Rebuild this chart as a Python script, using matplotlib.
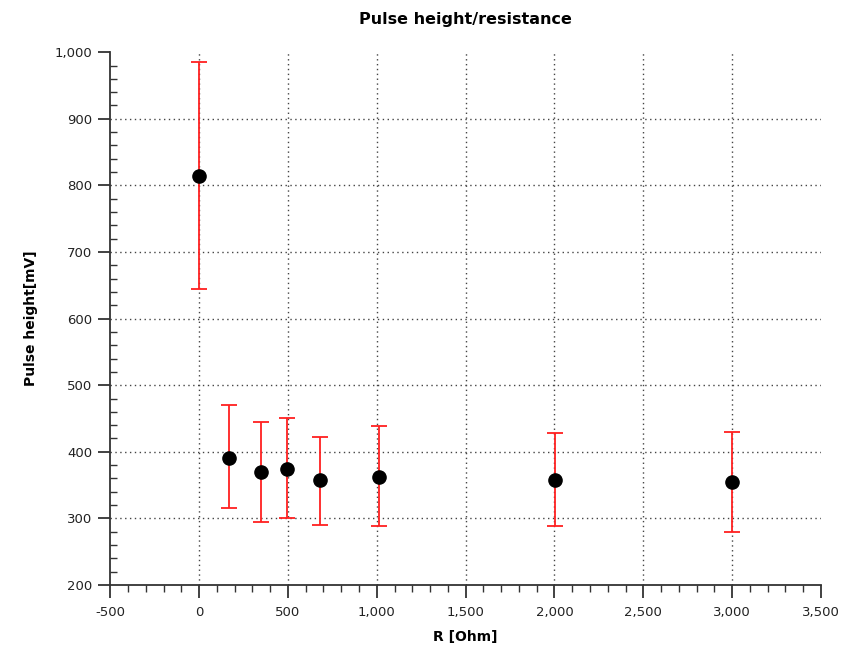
import matplotlib
matplotlib.use('Agg')
import matplotlib.pyplot as plt
from matplotlib.ticker import MultipleLocator, FuncFormatter

# Data
resistance = [0, 168, 347, 497, 683, 1015, 2003, 3000]
pulse_height = [814, 391, 369, 374, 357, 362, 357, 354]
err_low = [644, 316, 295, 300, 290, 288, 288, 280]
err_high = [986, 470, 445, 451, 422, 438, 428, 430]

yerr = [[p - lo for p, lo in zip(pulse_height, err_low)],
        [hi - p for p, hi in zip(pulse_height, err_high)]]

plt.rcParams['font.family'] = ['DejaVu Sans']

fig = plt.figure(figsize=(8.42, 6.61), dpi=100)
ax = fig.add_axes([0.131, 0.115, 0.844, 0.806])

ax.errorbar(resistance, pulse_height, yerr=yerr, fmt='none', ecolor='#ff2020',
            elinewidth=1.3, capsize=6, capthick=1.3, zorder=3)
ax.plot(resistance, pulse_height, 'o', color='black', markersize=9.5, zorder=4)

ax.set_xlim(-500, 3500)
ax.set_ylim(200, 1000)

thousands = FuncFormatter(lambda v, pos: f"{int(v):,}")
ax.xaxis.set_major_locator(MultipleLocator(500))
ax.xaxis.set_minor_locator(MultipleLocator(100))
ax.yaxis.set_major_locator(MultipleLocator(100))
ax.yaxis.set_minor_locator(MultipleLocator(20))
ax.xaxis.set_major_formatter(thousands)
ax.yaxis.set_major_formatter(thousands)

ax.tick_params(axis='x', which='major', direction='out', length=9, width=1.3,
               color='#333333', labelsize=9.5, labelcolor='#222222', pad=6)
ax.tick_params(axis='x', which='minor', direction='out', length=5, width=1.0, color='#333333')
ax.tick_params(axis='y', which='major', direction='out', length=9, width=1.3,
               color='#333333', labelsize=9.5, labelcolor='#222222', pad=4)
ax.tick_params(axis='y', which='minor', direction='in', length=5, width=1.0, color='#333333')

for side in ['top', 'right']:
    ax.spines[side].set_visible(False)
for side in ['left', 'bottom']:
    ax.spines[side].set_linewidth(1.3)
    ax.spines[side].set_color('#333333')

ax.grid(True, which='major', linestyle=(0, (1, 2.5)), color='#444444', linewidth=1.0)
ax.set_axisbelow(True)

# no grid lines along the plot edges
fig.canvas.draw()
for tick, loc in zip(ax.xaxis.get_major_ticks(), ax.get_xticks()):
    if loc <= -500 or loc >= 3500:
        tick.gridline.set_visible(False)
for tick, loc in zip(ax.yaxis.get_major_ticks(), ax.get_yticks()):
    if loc <= 200 or loc >= 1000:
        tick.gridline.set_visible(False)

ax.set_title('Pulse height/resistance', fontsize=11.5, fontweight='bold', pad=20)
ax.set_xlabel('R [Ohm]', fontsize=10, fontweight='bold', labelpad=8)
ax.set_ylabel('Pulse height[mV]', fontsize=10, fontweight='bold', labelpad=12)

fig.savefig('out.png', dpi=100)
